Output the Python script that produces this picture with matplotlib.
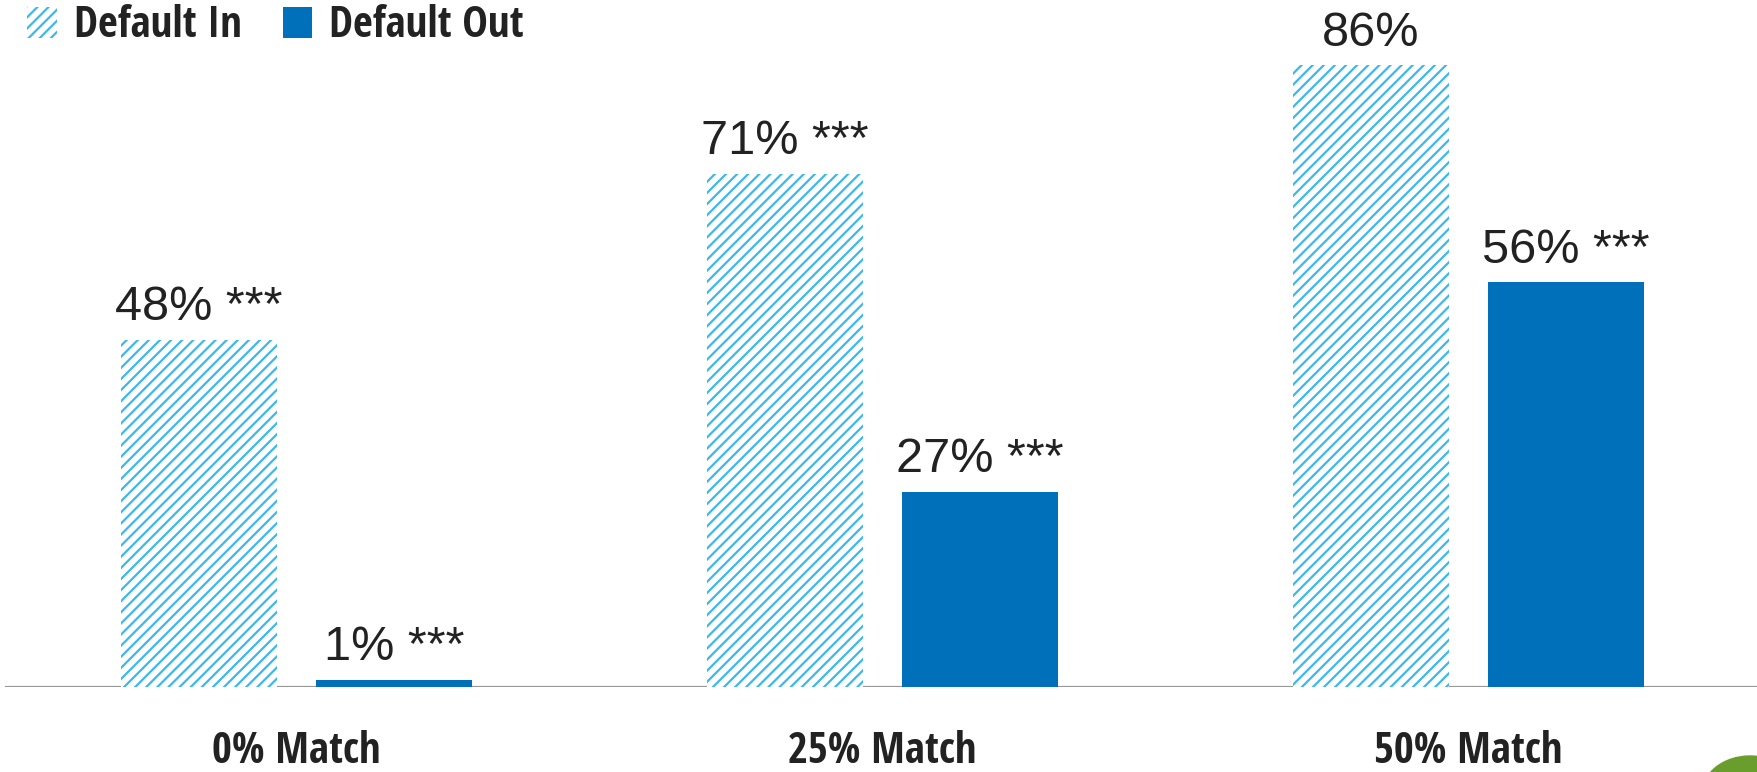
import matplotlib
matplotlib.use("Agg")
import os
import matplotlib.pyplot as plt
from matplotlib import font_manager
from matplotlib.font_manager import FontProperties
from matplotlib.patches import Ellipse
import numpy as np

# --- data ------------------------------------------------------------------------------------ #
categories = ["0% Match", "25% Match", "50% Match"]
series_names = ["Default In", "Default Out"]
default_in = [48, 71, 86]
default_out = [1, 27, 56]
in_labels = ["48% ***", "71% ***", "86%"]
out_labels = ["1% ***", "27% ***", "56% ***"]

LIGHT = "#3DB8EA"
DARK = "#0070BA"
TEXT = "#222222"
NUM_FONT = "Liberation Sans"


def bold_condensed(size):
    """A condensed/narrow bold face if one is installed, else Open Sans bold."""
    files = [f.fname for f in font_manager.fontManager.ttflist]
    wanted = ["OpenSans_Condensed-Bold", "OpenSansCondensed-Bold", "OpenSans-CondBold",
              "NotoSans-CondensedBold", "LiberationSansNarrow-Bold", "DejaVuSansCondensed-Bold"]
    for w in wanted:
        for fn in files:
            if os.path.basename(fn).startswith(w):
                return FontProperties(fname=fn, size=size)
    return FontProperties(family="Open Sans", weight="bold", size=size)


plt.rcParams["hatch.linewidth"] = 1.6

W, H, DPI = 1757, 772, 100
fig = plt.figure(figsize=(W / DPI, H / DPI), dpi=DPI)
ax = fig.add_axes([0, 85 / H, 1, 1 - 85 / H])

x = np.arange(len(categories))
bw = 156 / 586
off = 97.5 / 586
b_in = ax.bar(x - off, default_in, bw, color="white", edgecolor=LIGHT, linewidth=0,
              hatch="///", label=series_names[0])
b_out = ax.bar(x + off, default_out, bw, color=DARK, linewidth=0, label=series_names[1])

for bars, labels in ((b_in, in_labels), (b_out, out_labels)):
    for rect, lab in zip(bars, labels):
        ax.annotate(lab, (rect.get_x() + rect.get_width() / 2, rect.get_height()),
                    xytext=(0, 14), textcoords="offset points", ha="center", va="baseline",
                    fontsize=35, color=TEXT, family=NUM_FONT)

ax.set_xlim(-0.506, -0.506 + W / 586)
ax.set_ylim(0, 95)
ax.axis("off")
ax.axhline(0, xmin=6 / W, xmax=1, color="#999999", lw=1.6, zorder=0)

cat_font = bold_condensed(31)
for xi, cat in zip(x, categories):
    fig.text(ax.transData.transform((xi, 0))[0] / W, 9 / H, cat, ha="center", va="baseline",
             color=TEXT, fontproperties=cat_font)

leg = fig.legend(handles=[b_in, b_out], loc="upper left", bbox_to_anchor=(10 / W, 1 + 13 / H),
                 ncol=2, frameon=False, handlelength=0.68, handleheight=0.72,
                 handletextpad=0.4, columnspacing=0.95, borderaxespad=0,
                 prop=bold_condensed(31))
for t in leg.get_texts():
    t.set_color(TEXT)

# small globe logo peeking in at the bottom-right corner
fig.add_artist(Ellipse((1750 / W, -22 / H), 96 / W, 76 / H, transform=fig.transFigure,
                       color="#6A9E2C", clip_on=False))

fig.savefig("out.png", dpi=DPI)
